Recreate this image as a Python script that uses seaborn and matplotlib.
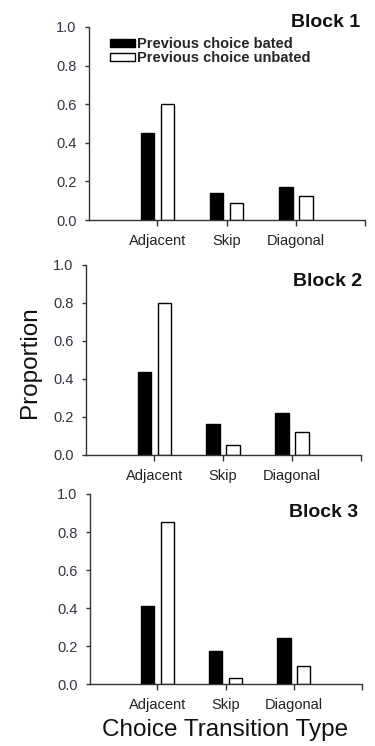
import matplotlib
matplotlib.use("Agg")
import matplotlib.pyplot as plt
import seaborn as sns
import pandas as pd
from matplotlib.patches import Patch

categories = ["Adjacent", "Skip", "Diagonal"]
series = ["Previous choice bated", "Previous choice unbated"]
blocks = ["Block 1", "Block 2", "Block 3"]
bated_values = [
    [0.45, 0.14, 0.172],
    [0.435, 0.161, 0.223],
    [0.41, 0.174, 0.243],
]
unbated_values = [
    [0.60, 0.088, 0.126],
    [0.80, 0.054, 0.121],
    [0.852, 0.034, 0.095],
]
y_ticks = [0.0, 0.2, 0.4, 0.6, 0.8, 1.0]

sns.set_theme(style="ticks")
plt.rcParams["font.family"] = ["Liberation Sans", "DejaVu Sans"]

W, H = 375, 746
fig = plt.figure(figsize=(W / 100, H / 100), dpi=100)

# axes boxes in pixels: left, right, top, bottom
boxes = [(89, 365, 27, 220), (86, 361, 265, 455), (90, 362, 494, 684)]
title_pos = [(360, 27), (362, 286), (358, 517)]

palette = {series[0]: "black", series[1]: "white"}

for i, (l, r, t, b) in enumerate(boxes):
    ax = fig.add_axes([l / W, 1 - b / H, (r - l) / W, (b - t) / H])
    df = pd.DataFrame({
        "cat": categories * 2,
        "series": [series[0]] * 3 + [series[1]] * 3,
        "value": bated_values[i] + unbated_values[i],
    })
    sns.barplot(data=df, x="cat", y="value", hue="series", order=categories,
                hue_order=series, palette=palette, width=0.58, gap=0.33,
                edgecolor="black", linewidth=1.0, ax=ax, legend=False,
                saturation=1)
    ax.set_xlim(-0.99, 3.0)
    ax.set_ylim(0, 1.0)
    ax.set_yticks(y_ticks)
    ax.set_yticklabels([f"{v:.1f}" for v in y_ticks])
    ax.set_xticks([0, 1, 2, 3])
    ax.set_xticklabels(categories + [""])
    ax.set_xlabel("")
    ax.set_ylabel("")
    for s in ["top", "right"]:
        ax.spines[s].set_visible(False)
    for s in ["left", "bottom"]:
        ax.spines[s].set_color("#333333")
        ax.spines[s].set_linewidth(1.0)
    ax.tick_params(axis="y", labelsize=10.5, length=3, width=1, colors="#333333",
                   labelcolor="#333344", pad=6)
    ax.tick_params(axis="x", labelsize=10.5, length=4, width=1, colors="#333333",
                   labelcolor="#222222", pad=6)
    ax.set_facecolor("white")
    x, y = title_pos[i]
    fig.text(x / W, 1 - y / H, blocks[i], ha="right", va="baseline",
             fontsize=14, fontweight="bold", color="#111111")
    if i == 0:
        handles = [Patch(facecolor="black", edgecolor="black", linewidth=1),
                   Patch(facecolor="white", edgecolor="black", linewidth=1)]
        fig.legend(handles, series, loc="upper left",
                   bbox_to_anchor=(110 / W, 1 - 37 / H),
                   bbox_transform=fig.transFigure, frameon=False,
                   borderpad=0, borderaxespad=0, labelspacing=0.0,
                   handlelength=1.7, handleheight=0.45, handletextpad=0.15,
                   prop={"size": 10.5, "weight": "bold"})

fig.text(30 / W, 1 - 362 / H, "Proportion", rotation=90, ha="center",
         va="center", fontsize=17.5, color="#111111")
fig.text(225 / W, 1 - 730 / H, "Choice Transition Type", ha="center",
         va="center", fontsize=17.5, color="#111111")

fig.savefig("out.png", dpi=100, facecolor="white")
